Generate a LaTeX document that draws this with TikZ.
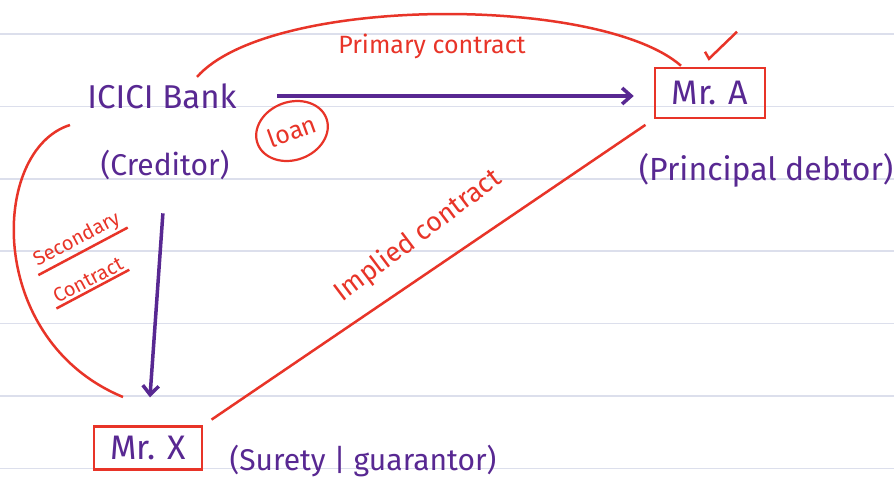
\documentclass[tikz,border=0pt]{standalone}
\usepackage{fontspec}
\setmainfont{Fira Sans}
\usetikzlibrary{shapes.geometric,arrows.meta}
\definecolor{ink}{RGB}{88,40,146}
\definecolor{pen}{RGB}{232,52,40}
\definecolor{rule}{RGB}{220,223,236}

\begin{document}
\begin{tikzpicture}[
    x=1pt, y=-1pt,
    every node/.style={align=center},
    inktext/.style={text=ink, font=\fontsize{30}{32}\selectfont},
    pentext/.style={text=pen, font=\fontsize{25}{27}\selectfont},
    namebox/.style={inktext, font=\fontsize{34}{36}\selectfont, draw=pen, line width=2.5pt},
    penline/.style={draw=pen, line width=2.5pt},
    inkarrow/.style={draw=ink, line width=3.5pt, -{Straight Barb[length=9pt,width=16pt]}},
    ruled/.style={draw=rule, line width=1.5pt}
]

\useasboundingbox (0,0) rectangle (894,496);
\fill[white] (0,0) rectangle (894,496);
\foreach \y in {34,106.4,...,470}
    \draw[ruled] (0,\y) -- (894,\y);

\node [inktext, font=\fontsize{33}{35}\selectfont] (bank) at (162,96) {ICICI Bank};
\node [inktext] (creditor) at (165,165) {(Creditor)};
\node [namebox, minimum width=110pt, minimum height=50pt, inner sep=0pt] (mra) at (710,93) {Mr. A};
\node [inktext, font=\fontsize{32}{34}\selectfont] (debtor) at (766,170) {(Principal debtor)};
\node [namebox, minimum width=108pt, minimum height=43pt, inner sep=0pt] (mrx) at (148,448) {Mr. X};
\node [inktext] (surety) at (363,461) {(Surety | guarantor)};

\node [pentext] (primary) at (432,46) {Primary contract};
\node [pentext, draw=pen, line width=2.2pt, ellipse, rotate=20,
       minimum width=72pt, minimum height=58pt, inner sep=1pt] (loan) at (292,131) {loan};
\node [pentext, rotate=37, font=\fontsize{27}{29}\selectfont] (implied) at (418,236) {Implied contract};
\node [pentext, rotate=28, font=\fontsize{20}{22}\selectfont, inner sep=3pt] (sec1) at (77,240) {Secondary};
\node [pentext, rotate=28, font=\fontsize{20}{22}\selectfont, inner sep=3pt] (sec2) at (88,280) {Contract};
\draw[penline] (sec1.south west) -- (sec1.south east);
\draw[penline] (sec2.south west) -- (sec2.south east);

\coordinate (secstart) at (70,125);
\coordinate (secend) at (123,397);

\draw[inkarrow, shorten <=37pt, shorten >=20pt] (bank.east) -- (bank.east -| mra.west);
\draw[inkarrow, shorten <=30pt, shorten >=28pt] (creditor.south) -- (mrx.north);

\draw[penline] ([shift={(35,-3)}]bank.north) .. controls (270,-5) and (600,-5) .. ([shift={(-29,-1)}]mra.north);
\draw[penline, shorten <=10pt, shorten >=10pt] (mra.south west) -- (mrx.north east);
\draw[penline] (secstart) .. controls (-10,150) and (-15,340) .. (secend);
\draw[penline] ([shift={(-5,-15)}]mra.north) -- ++(4,7) -- ++(28,-27);

\end{tikzpicture}
\end{document}
